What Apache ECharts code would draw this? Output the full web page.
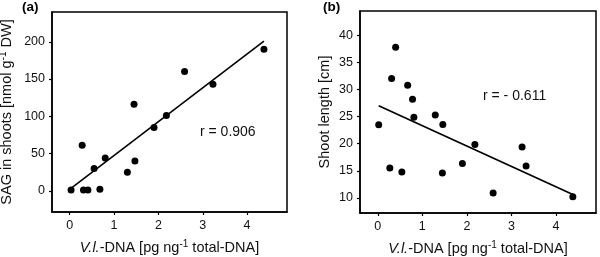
<!DOCTYPE html>
<html>
<head>
<meta charset="utf-8">
<script src="https://cdn.jsdelivr.net/npm/echarts@6/dist/echarts.min.js"></script>
<style>html,body{margin:0;padding:0;background:#fff;}#c{width:600px;height:257px;}</style>
</head>
<body>
<div id="c"></div>
<script>
// Panel (a): SAG vs V.l.-DNA
const dnaA = [0.03, 0.28, 0.31, 0.41, 0.55, 0.68, 0.80, 1.30, 1.45, 1.47, 1.90, 2.18, 2.59, 3.23, 4.38];
const sagA = [1, 61, 1, 1, 30, 2, 44, 25, 116, 40, 85, 101, 160, 143, 190];
const fitA_x = [0.02, 4.38];
const fitA_y = [3, 201];
// Panel (b): Shoot length vs V.l.-DNA
const dnaB = [0.02, 0.27, 0.31, 0.40, 0.54, 0.67, 0.78, 0.81, 1.29, 1.45, 1.46, 1.90, 2.18, 2.59, 3.24, 3.33, 4.38];
const lenB = [23.5, 15.5, 32.05, 37.8, 14.75, 30.8, 28.2, 24.9, 25.3, 14.6, 23.55, 16.35, 19.85, 10.87, 19.4, 15.86, 10.18];
const fitB_x = [0.02, 4.38];
const fitB_y = [27.0, 10.6];
// Tick labels
const xTicks = [0, 1, 2, 3, 4];
const yTicksA = [0, 50, 100, 150, 200];
const yTicksB = [10, 15, 20, 25, 30, 35, 40];
const rA = 'r = 0.906';
const rB = 'r = - 0.611';

const FONT = 'Liberation Sans, Arial, sans-serif';
const zip = (a, b) => a.map((v, i) => [v, b[i]]);

const TS = 14.5;
const xName = '{it|V.l.}-DNA [pg ng{sup|-1} total-DNA]';
const nameRich = {
  it: {fontStyle: 'italic', fontSize: TS, fontFamily: FONT, color: '#111'},
  sup: {fontSize: 10, fontFamily: FONT, color: '#111', verticalAlign: 'top', padding: [0, 0, 7, 0]}
};

function xAxis(gi) {
  return {
    gridIndex: gi, type: 'value', min: -0.4, max: 4.9,
    name: xName, nameLocation: 'middle', nameGap: 27,
    nameTextStyle: {fontSize: TS, fontFamily: FONT, color: '#111', rich: nameRich},
    axisLine: {show: true, onZero: false, lineStyle: {color: '#000', width: 1.5}},
    axisTick: {show: true, customValues: xTicks, length: 3, lineStyle: {color: '#000', width: 1.2}},
    axisLabel: {customValues: xTicks, fontSize: 12.5, fontFamily: FONT, color: '#111', margin: 7},
    splitLine: {show: false}
  };
}
function yAxis(gi, min, max, ticks, name, gap) {
  return {
    gridIndex: gi, type: 'value', min: min, max: max,
    name: name, nameLocation: 'middle', nameGap: gap, nameRotate: 90,
    nameTextStyle: {fontSize: TS, fontFamily: FONT, color: '#111', rich: nameRich},
    axisLine: {show: true, onZero: false, lineStyle: {color: '#000', width: 1.5}},
    axisTick: {show: true, customValues: ticks, length: 3, lineStyle: {color: '#000', width: 1.2}},
    axisLabel: {customValues: ticks, fontSize: 12.5, fontFamily: FONT, color: '#111', margin: 7},
    splitLine: {show: false}
  };
}

const chart = echarts.init(document.getElementById('c'), null, {renderer: 'canvas'});
chart.setOption({
  animation: false,
  backgroundColor: '#fff',
  grid: [
    {left: 52, top: 12, width: 235, height: 200, show: true, borderColor: '#000', borderWidth: 1.5,
     containLabel: false, outerBoundsMode: 'none'},
    {left: 360, top: 11, width: 236, height: 202, show: true, borderColor: '#000', borderWidth: 1.5,
     containLabel: false, outerBoundsMode: 'none'}
  ],
  xAxis: [xAxis(0), xAxis(1)],
  yAxis: [
    yAxis(0, -28.5, 240, yTicksA, 'SAG in shoots [nmol g{sup|-1} DW]', 37),
    yAxis(1, 7.2, 44.5, yTicksB, 'Shoot length [cm]', 28)
  ],
  graphic: [
    {type: 'text', left: 22, top: 0, style: {text: '(a)', font: 'bold 13.5px ' + FONT, fill: '#000'}},
    {type: 'text', left: 323, top: 0, style: {text: '(b)', font: 'bold 13.5px ' + FONT, fill: '#000'}},
    {type: 'text', left: 200, top: 125, style: {text: rA, font: '14px ' + FONT, fill: '#111'}},
    {type: 'text', left: 483, top: 89, style: {text: rB, font: '14px ' + FONT, fill: '#111'}}
  ],
  series: [
    {type: 'line', xAxisIndex: 0, yAxisIndex: 0, data: zip(fitA_x, fitA_y), symbol: 'none',
     lineStyle: {color: '#000', width: 1.6}, z: 2},
    {type: 'scatter', xAxisIndex: 0, yAxisIndex: 0, data: zip(dnaA, sagA), symbolSize: 7,
     itemStyle: {color: '#000', opacity: 1}, z: 3},
    {type: 'line', xAxisIndex: 1, yAxisIndex: 1, data: zip(fitB_x, fitB_y), symbol: 'none',
     lineStyle: {color: '#000', width: 1.6}, z: 2},
    {type: 'scatter', xAxisIndex: 1, yAxisIndex: 1, data: zip(dnaB, lenB), symbolSize: 7,
     itemStyle: {color: '#000', opacity: 1}, z: 3}
  ]
});
</script>
</body>
</html>
